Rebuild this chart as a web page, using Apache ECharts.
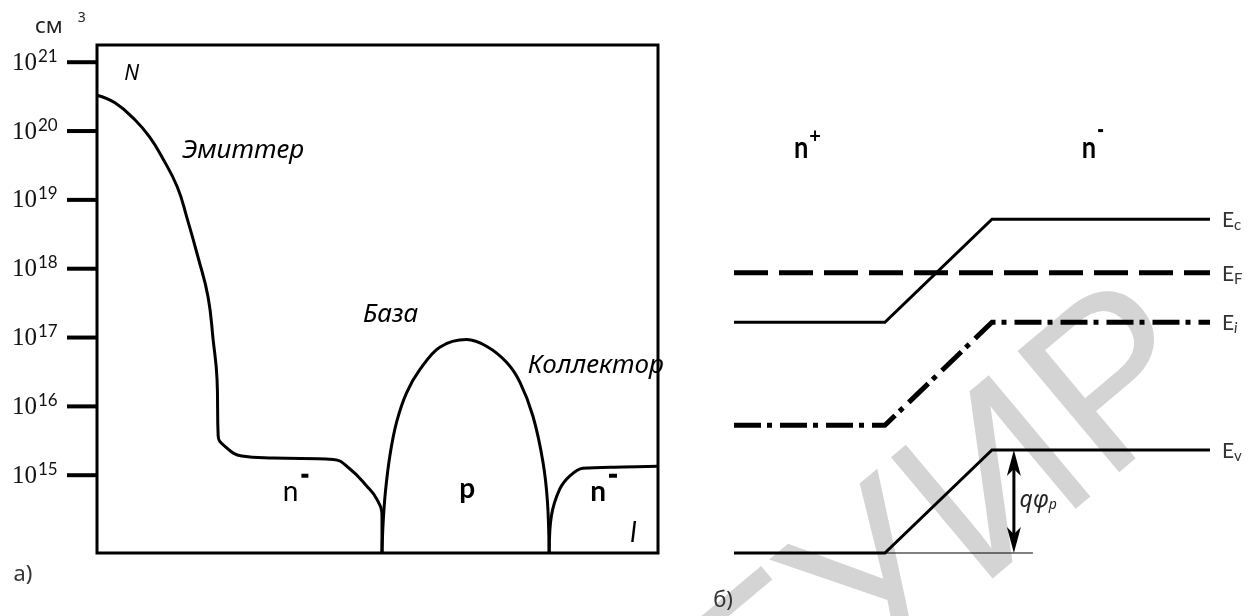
<!DOCTYPE html>
<html>
<head>
<meta charset="utf-8">
<script src="https://cdn.jsdelivr.net/npm/echarts@6/dist/echarts.min.js"></script>
<style>
  html, body { margin: 0; padding: 0; background: #fff; }
  #chart { width: 1252px; height: 616px; }
</style>
</head>
<body>
<div id="chart"></div>
<script>
// ---- а) impurity profile N(x): depth in arbitrary units, log10 N in cm^-3 ----
const emitterDepth = [0, 3.2, 6.8, 9.4, 11.6, 14.3, 16.0, 18.0, 19.8, 20.7, 21.4, 21.6, 22.8, 25.8, 31.4, 42.1, 45.1, 48.1, 49.9, 50.8, 50.8];
const emitterLogN  = [20.52, 20.41, 20.16, 19.91, 19.62, 19.19, 18.75, 18.17, 17.59, 16.97, 16.39, 15.57, 15.42, 15.28, 15.25, 15.23, 15.09, 14.84, 14.65, 14.41, 13.88];
const baseDepth = [50.8, 51.0, 51.4, 52.2, 53.4, 55.2, 57.6, 61.1, 65.9, 69.5, 73.0, 75.4, 77.7, 79.5, 80.3, 80.6];
const baseLogN  = [13.88, 14.30, 14.75, 15.28, 15.77, 16.20, 16.54, 16.86, 16.97, 16.87, 16.64, 16.35, 15.86, 15.19, 14.61, 13.88];
const collectorDepth = [80.6, 81.0, 82.5, 84.3, 86.6, 93.8, 100];
const collectorLogN  = [13.88, 14.41, 14.80, 14.99, 15.10, 15.12, 15.13];
const tickExponents = [15, 16, 17, 18, 19, 20, 21];

// ---- б) band diagram of the n+ / n- junction: distance (arb. units), energy (eV) ----
const bandX  = [0, 3.17, 5.42, 10];
const bandEc = [1.12, 1.12, 1.62, 1.62];
const bandEi = [0.62, 0.62, 1.12, 1.12];
const bandEv = [0, 0, 0.50, 0.50];
const fermiX = [0, 10];
const fermiE = [1.36, 1.36];
const potentialX = 5.88;      // where q·phi_p is measured
const referenceEnd = 6.28;    // thin level line continuing Ev of the n+ side

const zip = (xs, ys) => xs.map((x, i) => [x, ys[i]]);

const SANS = '"Noto Sans", "DejaVu Sans", sans-serif';
const LATO = 'Lato, "Noto Sans", sans-serif';
const SERIF = '"Liberation Serif", "DejaVu Serif", serif';

// text annotations, placed in each panel's data coordinates
const notesA = [
  { x: -11.05, y: 21.51, align: 'left', color: '#222', parts: [
    { text: 'см', font: `22px ${SANS}` }, { text: '3', font: `14px ${SANS}`, dx: 15, dy: -9 } ] },
  { x: 6.2, y: 20.83, align: 'center', parts: [{ text: 'N', font: `italic 21px ${SANS}` }] },
  { x: 15.15, y: 19.72, align: 'left', parts: [{ text: 'Эмиттер', font: `italic 26px ${SANS}` }] },
  { x: 47.4, y: 17.33, align: 'left', parts: [{ text: 'База', font: `italic 26px ${SANS}` }] },
  { x: 76.8, y: 16.59, align: 'left', parts: [{ text: 'Коллектор', font: `italic 26px ${SANS}` }] },
  { x: 35.4, y: 14.76, align: 'center', parts: [
    { text: 'n', font: `28px ${LATO}` }, { rect: [7, 4], dx: 3, dy: -16 } ] },
  { x: 66.0, y: 14.80, align: 'center', parts: [{ text: 'p', font: `bold 28px ${LATO}` }] },
  { x: 90.3, y: 14.76, align: 'center', parts: [
    { text: 'n', font: `bold 28px ${LATO}` }, { rect: [8, 4], dx: 3, dy: -16 } ] },
  { x: 95.6, y: 14.16, align: 'center', parts: [{ text: 'l', font: `italic 28px ${LATO}` }] },
  { x: -13.2, y: 13.55, align: 'center', color: '#333', parts: [{ text: 'а)', font: `22px ${SANS}` }] }
];
const notesB = [
  { x: 1.544, y: 1.968, align: 'center', parts: [
    { text: 'n', font: `bold 31px ${LATO}`, scaleX: 0.82 }, { text: '+', font: `bold 20px ${LATO}`, dx: 1, dy: -11 } ] },
  { x: 7.53, y: 1.968, align: 'center', parts: [
    { text: 'n', font: `bold 31px ${LATO}`, scaleX: 0.82 }, { rect: [5, 3], dx: 2, dy: -17 } ] },
  { x: 6.0, y: 0.257, align: 'left', color: '#222', parts: [
    { text: 'qφ', font: `italic 23px ${SANS}` }, { text: 'p', font: `italic 14px ${SANS}`, dx: 0, dy: 5 } ] },
  { x: 10.25, y: 1.62, align: 'left', color: '#333', parts: [
    { text: 'E', font: `21px ${LATO}`, dy: 1 }, { text: 'c', font: `15px ${LATO}`, dy: 6 } ] },
  { x: 10.25, y: 1.36, align: 'left', color: '#333', parts: [
    { text: 'E', font: `21px ${LATO}`, dy: 1 }, { text: 'F', font: `15px ${LATO}`, dy: 6 } ] },
  { x: 10.25, y: 1.12, align: 'left', color: '#333', parts: [
    { text: 'E', font: `21px ${LATO}`, dy: 1 }, { text: 'i', font: `italic 15px ${LATO}`, dy: 6 } ] },
  { x: 10.25, y: 0.50, align: 'left', color: '#333', parts: [
    { text: 'E', font: `21px ${LATO}`, dy: 1 }, { text: 'v', font: `15px ${LATO}`, dy: 6 } ] },
  { x: -0.23, y: -0.233, align: 'center', color: '#333', parts: [{ text: 'б)', font: `22px ${SANS}` }] }
];

const measureCtx = document.createElement('canvas').getContext('2d');
function partWidth(part) {
  if (part.rect) return part.rect[0];
  measureCtx.font = part.font;
  return measureCtx.measureText(part.text).width * (part.scaleX || 1);
}

function noteRenderer(notes) {
  return function (params, api) {
    const note = notes[api.value(2)];
    const p = api.coord([api.value(0), api.value(1)]);
    const widths = note.parts.map(partWidth);
    const total = note.parts.reduce((s, part, i) => s + widths[i] + (part.dx || 0), 0);
    let x = note.align === 'center' ? p[0] - total / 2 : p[0];
    const fill = note.color || '#000';
    const children = [];
    note.parts.forEach((part, i) => {
      x += part.dx || 0;
      const y = p[1] + (part.dy || 0);
      if (part.rect) {
        children.push({ type: 'rect', shape: { x: x, y: y - part.rect[1] / 2, width: part.rect[0], height: part.rect[1] }, style: { fill: fill } });
      } else {
        children.push({ type: 'text', x: x, y: y, scaleX: part.scaleX || 1,
          style: { text: part.text, font: part.font, fill: fill, align: 'left', verticalAlign: 'middle' } });
      }
      x += widths[i];
    });
    return { type: 'group', children: children };
  };
}

// decade ticks "10^n" on the left side of panel а
function renderTick(params, api) {
  const e = api.value(1);
  const p = api.coord([api.value(0), e]);
  return { type: 'group', children: [
    { type: 'line', shape: { x1: p[0] - 30, y1: p[1], x2: p[0], y2: p[1] }, style: { stroke: '#000', lineWidth: 4 } },
    { type: 'text', x: p[0] - 60, y: p[1] + 1, style: { text: '10', font: `25px ${SERIF}`, fill: '#111', align: 'right', verticalAlign: 'middle' } },
    { type: 'text', x: p[0] - 59, y: p[1] - 6, style: { text: String(e), font: `17px ${LATO}`, fill: '#111', align: 'left', verticalAlign: 'middle' } }
  ] };
}

// double-headed arrow between two energy levels at the same x
function renderArrow(params, api) {
  const top = api.coord([api.value(0), api.value(1)]);
  const bot = api.coord([api.value(0), api.value(2)]);
  const x = top[0];
  const hw = 7, len = 26, notch = 19;
  return { type: 'group', children: [
    { type: 'line', shape: { x1: x, y1: top[1] + notch, x2: x, y2: bot[1] - notch }, style: { stroke: '#000', lineWidth: 3 } },
    { type: 'polygon', shape: { points: [[x, top[1]], [x - hw, top[1] + len], [x, top[1] + notch], [x + hw, top[1] + len]] }, style: { fill: '#000' } },
    { type: 'polygon', shape: { points: [[x, bot[1]], [x - hw, bot[1] - len], [x, bot[1] - notch], [x + hw, bot[1] - len]] }, style: { fill: '#000' } }
  ] };
}

const profileLine = { color: '#000', width: 3 };
const solid = (w) => ({ color: '#000', width: w, cap: 'butt', join: 'miter' });

const option = {
  animation: false,
  backgroundColor: '#fff',
  grid: [
    { left: 97, top: 45, width: 561, height: 508, show: true, borderColor: '#000', borderWidth: 3, backgroundColor: 'transparent' },
    { left: 710.2, top: 99.8, width: 523.6, height: 515 }
  ],
  xAxis: [
    { gridIndex: 0, type: 'value', min: 0, max: 100, show: false },
    { gridIndex: 1, type: 'value', min: -0.5, max: 10.5, show: false }
  ],
  yAxis: [
    { gridIndex: 0, type: 'value', min: 13.87, max: 21.25, show: false },
    { gridIndex: 1, type: 'value', min: -0.3, max: 2.2, show: false }
  ],
  graphic: [
    { type: 'text', x: 898, y: 575, rotation: 40 * Math.PI / 180, z: -10, silent: true,
      style: { text: 'БГУИР', font: `230px "Liberation Sans", sans-serif`, fill: '#d4d4d4', align: 'center', verticalAlign: 'middle' } }
  ],
  series: [
    { name: 'Эмиттер', type: 'line', xAxisIndex: 0, yAxisIndex: 0, data: zip(emitterDepth, emitterLogN),
      smooth: 0.45, showSymbol: false, symbol: 'none', lineStyle: profileLine, clip: false },
    { name: 'База', type: 'line', xAxisIndex: 0, yAxisIndex: 0, data: zip(baseDepth, baseLogN),
      smooth: 0.35, showSymbol: false, symbol: 'none', lineStyle: profileLine, clip: false },
    { name: 'Коллектор', type: 'line', xAxisIndex: 0, yAxisIndex: 0, data: zip(collectorDepth, collectorLogN),
      smooth: 0.35, showSymbol: false, symbol: 'none', lineStyle: profileLine, clip: false },
    { name: 'ticks', type: 'custom', xAxisIndex: 0, yAxisIndex: 0, data: tickExponents.map(e => [0, e]), renderItem: renderTick, silent: true },
    { name: 'notesA', type: 'custom', xAxisIndex: 0, yAxisIndex: 0, data: notesA.map((n, i) => [n.x, n.y, i]), renderItem: noteRenderer(notesA), silent: true, z: 5 },

    { name: 'Ec', type: 'line', xAxisIndex: 1, yAxisIndex: 1, data: zip(bandX, bandEc), symbol: 'none', lineStyle: solid(3), clip: false },
    { name: 'EF', type: 'line', xAxisIndex: 1, yAxisIndex: 1, data: zip(fermiX, fermiE), symbol: 'none',
      lineStyle: { color: '#000', width: 5, type: [34, 11], cap: 'butt' }, clip: false },
    { name: 'Ei', type: 'line', xAxisIndex: 1, yAxisIndex: 1, data: zip(bandX, bandEi), symbol: 'none',
      lineStyle: { color: '#000', width: 5, type: [27, 6, 5, 8], cap: 'butt', join: 'miter' }, clip: false },
    { name: 'Ev', type: 'line', xAxisIndex: 1, yAxisIndex: 1, data: zip(bandX, bandEv), symbol: 'none', lineStyle: solid(3), clip: false },
    { name: 'level', type: 'line', xAxisIndex: 1, yAxisIndex: 1, data: [[bandX[1], bandEv[0]], [referenceEnd, bandEv[0]]],
      symbol: 'none', lineStyle: { color: '#000', width: 1 }, clip: false },
    { name: 'qφp', type: 'custom', xAxisIndex: 1, yAxisIndex: 1, data: [[potentialX, bandEv[2], bandEv[0]]], renderItem: renderArrow, silent: true },
    { name: 'notesB', type: 'custom', xAxisIndex: 1, yAxisIndex: 1, data: notesB.map((n, i) => [n.x, n.y, i]), renderItem: noteRenderer(notesB), silent: true, z: 5 }
  ]
};

const chart = echarts.init(document.getElementById('chart'), null, { renderer: 'canvas' });
chart.setOption(option);
</script>
</body>
</html>
